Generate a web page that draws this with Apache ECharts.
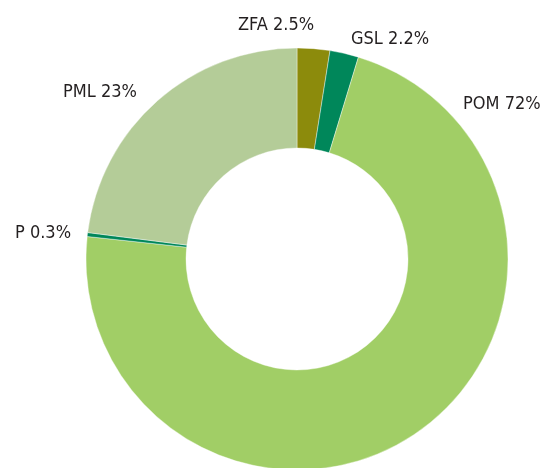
<!DOCTYPE html>
<html>
<head>
<meta charset="utf-8">
<script src="https://cdn.jsdelivr.net/npm/echarts@6/dist/echarts.min.js"></script>
<style>
  html, body { margin: 0; padding: 0; background: #fff; }
  #main { width: 550px; height: 468px; }
</style>
</head>
<body>
<div id="main"></div>
<script>
// slice names and shares (%), clockwise from 12 o'clock
var names = ['ZFA', 'GSL', 'POM', 'P', 'PML'];
var shares = [2.5, 2.2, 72, 0.3, 23];
var colors = ['#8c8b0c', '#00875a', '#a1ce66', '#00875a', '#b4cc98'];

// where each label sits (left edge, middle)
var labelSpots = {
    ZFA: [238, 25],
    GSL: [351, 39],
    POM: [463, 104],
    P: [15, 233],
    PML: [63, 92]
};

var chart = echarts.init(document.getElementById('main'));

var data = names.map(function (n, i) {
    return { name: n, value: shares[i], itemStyle: { color: colors[i] } };
});

chart.setOption({
    animation: false,
    series: [{
        type: 'pie',
        center: [297, 259],
        radius: [111, 211],
        startAngle: 90,
        clockwise: true,
        itemStyle: { borderColor: '#fff', borderWidth: 0.4 },
        label: {
            show: true,
            position: 'outside',
            formatter: function (p) { return p.name + ' ' + p.value + '%'; },
            fontFamily: "'DejaVu Sans Condensed'",
            fontSize: 18,
            color: '#231f20',
            overflow: 'none'
        },
        labelLine: { show: false },
        labelLayout: function (params) {
            var s = labelSpots[names[params.dataIndex]];
            if (!s) return {};
            return { x: s[0], y: s[1], align: 'left', verticalAlign: 'middle' };
        },
        data: data
    }]
});
</script>
</body>
</html>
